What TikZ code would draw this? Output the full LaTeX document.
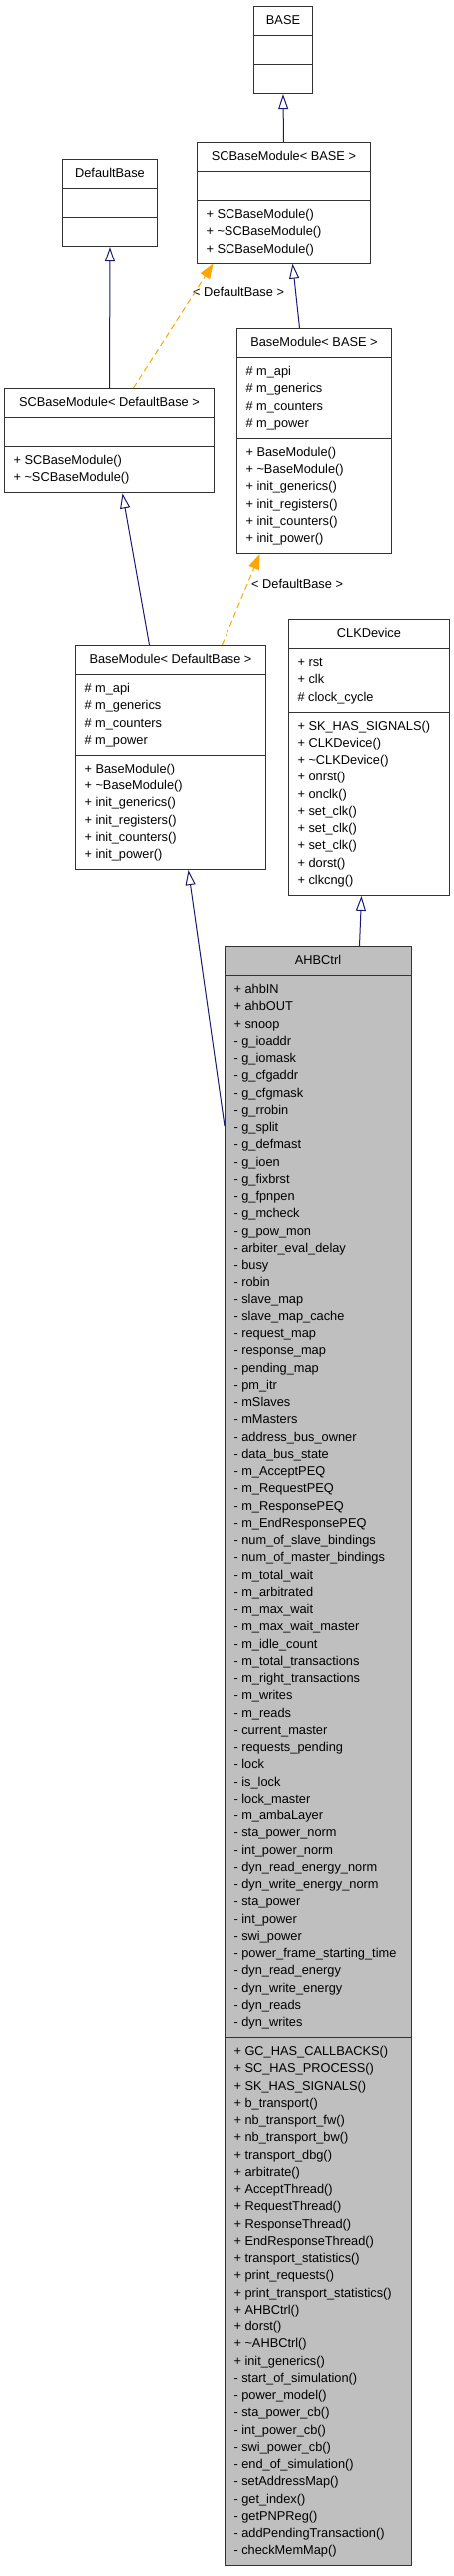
\documentclass[tikz,border=0pt]{standalone}
\usepackage{fontspec}
\setmainfont{Liberation Sans}
\usetikzlibrary{shapes.multipart,arrows.meta}
\definecolor{midnight}{RGB}{25,25,112}
\definecolor{tmplorange}{RGB}{255,165,0}

\begin{document}
\begin{tikzpicture}[x=1pt,y=-1pt,font=\fontsize{12.8}{17.25}\selectfont,
      klass/.style={rectangle split,rectangle split parts=3,draw=black!80,line width=1pt,
        anchor=north west,align=left,rectangle split part align={center,left,left},
        inner xsep=9pt,inner ysep=5.4pt,minimum width=#1,fill=white},
      focus/.style={fill=black!25},
      isa/.style={-{Triangle[open,length=15pt,width=10pt]},draw=midnight,line width=1pt},
      inst/.style={-{Triangle[length=15pt,width=11pt]},draw=tmplorange,line width=1pt,dash pattern=on 6pt off 4pt},
      tlabel/.style={anchor=west,inner sep=0pt}]
  \useasboundingbox (0,0) rectangle (455,2581);
  % classes
  \node[klass=59pt] (base) at (254,6) {\strut BASE\nodepart{two}\strut\nodepart{three}\strut};
  \node[klass=174pt] (scbmBase) at (197,142) {\strut SCBaseModule< BASE >\nodepart{two}\strut
    \nodepart{three}\strut+ SCBaseModule()\\+ \textasciitilde SCBaseModule()\\+ SCBaseModule()\strut};
  \node[klass=95pt] (defbase) at (62,159) {\strut DefaultBase\nodepart{two}\strut\nodepart{three}\strut};
  \node[klass=210pt] (scbmDef) at (4,389) {\strut SCBaseModule< DefaultBase >\nodepart{two}\strut
    \nodepart{three}\strut+ SCBaseModule()\\+ \textasciitilde SCBaseModule()\strut};
  \node[klass=155pt] (bmBase) at (237,329) {\strut BaseModule< BASE >
    \nodepart{two}\strut\# m\_api\\\# m\_generics\\\# m\_counters\\\# m\_power\strut
    \nodepart{three}\strut+ BaseModule()\\+ \textasciitilde BaseModule()\\+ init\_generics()\\+ init\_registers()\\+ init\_counters()\\+ init\_power()\strut};
  \node[klass=161pt] (clk) at (289,620) {\strut CLKDevice
    \nodepart{two}\strut+ rst\\+ clk\\\# clock\_cycle\strut
    \nodepart{three}\strut+ SK\_HAS\_SIGNALS()\\+ CLKDevice()\\+ \textasciitilde CLKDevice()\\+ onrst()\\+ onclk()\\+ set\_clk()\\+ set\_clk()\\+ set\_clk()\\+ dorst()\\+ clkcng()\strut};
  \node[klass=191pt] (bmDef) at (75,646) {\strut BaseModule< DefaultBase >
    \nodepart{two}\strut\# m\_api\\\# m\_generics\\\# m\_counters\\\# m\_power\strut
    \nodepart{three}\strut+ BaseModule()\\+ \textasciitilde BaseModule()\\+ init\_generics()\\+ init\_registers()\\+ init\_counters()\\+ init\_power()\strut};
  \node[klass=187pt,focus] (ahb) at (225,948) {\strut AHBCtrl
    \nodepart{two}\strut+ ahbIN\\+ ahbOUT\\+ snoop\\- g\_ioaddr\\- g\_iomask\\- g\_cfgaddr\\- g\_cfgmask\\- g\_rrobin\\- g\_split\\- g\_defmast\\- g\_ioen\\- g\_fixbrst\\- g\_fpnpen\\- g\_mcheck\\- g\_pow\_mon\\- arbiter\_eval\_delay\\- busy\\- robin\\- slave\_map\\- slave\_map\_cache\\- request\_map\\- response\_map\\- pending\_map\\- pm\_itr\\- mSlaves\\- mMasters\\- address\_bus\_owner\\- data\_bus\_state\\- m\_AcceptPEQ\\- m\_RequestPEQ\\- m\_ResponsePEQ\\- m\_EndResponsePEQ\\- num\_of\_slave\_bindings\\- num\_of\_master\_bindings\\- m\_total\_wait\\- m\_arbitrated\\- m\_max\_wait\\- m\_max\_wait\_master\\- m\_idle\_count\\- m\_total\_transactions\\- m\_right\_transactions\\- m\_writes\\- m\_reads\\- current\_master\\- requests\_pending\\- lock\\- is\_lock\\- lock\_master\\- m\_ambaLayer\\- sta\_power\_norm\\- int\_power\_norm\\- dyn\_read\_energy\_norm\\- dyn\_write\_energy\_norm\\- sta\_power\\- int\_power\\- swi\_power\\- power\_frame\_starting\_time\\- dyn\_read\_energy\\- dyn\_write\_energy\\- dyn\_reads\\- dyn\_writes\strut
    \nodepart{three}\strut+ GC\_HAS\_CALLBACKS()\\+ SC\_HAS\_PROCESS()\\+ SK\_HAS\_SIGNALS()\\+ b\_transport()\\+ nb\_transport\_fw()\\+ nb\_transport\_bw()\\+ transport\_dbg()\\+ arbitrate()\\+ AcceptThread()\\+ RequestThread()\\+ ResponseThread()\\+ EndResponseThread()\\+ transport\_statistics()\\+ print\_requests()\\+ print\_transport\_statistics()\\+ AHBCtrl()\\+ dorst()\\+ \textasciitilde AHBCtrl()\\+ init\_generics()\\- start\_of\_simulation()\\- power\_model()\\- sta\_power\_cb()\\- int\_power\_cb()\\- swi\_power\_cb()\\- end\_of\_simulation()\\- setAddressMap()\\- get\_index()\\- getPNPReg()\\- addPendingTransaction()\\- checkMemMap()\strut};
  % template labels
  \node[tlabel] (lblScbm) at (193,293) {< DefaultBase >};
  \node[tlabel] (lblBm) at (252,585) {< DefaultBase >};
  % inheritance
  \draw[isa] (scbmBase.north) -- (base.south);
  \draw[isa] (scbmDef.north) -- (defbase.south);
  \draw[isa] ([xshift=-14.5pt]bmBase.north) -- ([xshift=9pt]scbmBase.south);
  \draw[isa] ([xshift=-21.5pt]bmDef.north) -- ([xshift=13pt]scbmDef.south);
  \draw[isa] ([xshift=41.5pt]ahb.north) -- ([xshift=-7.5pt]clk.south);
  \draw[isa] ([yshift=-180pt]ahb.north west) -- ([xshift=17.5pt]bmDef.south);
  % template instances
  \draw[inst] ([xshift=24pt]scbmDef.north) -- ([xshift=-71pt]scbmBase.south);
  \draw[inst] ([xshift=51.5pt]bmDef.north) -- ([xshift=-54.5pt]bmBase.south);
\end{tikzpicture}
\end{document}
